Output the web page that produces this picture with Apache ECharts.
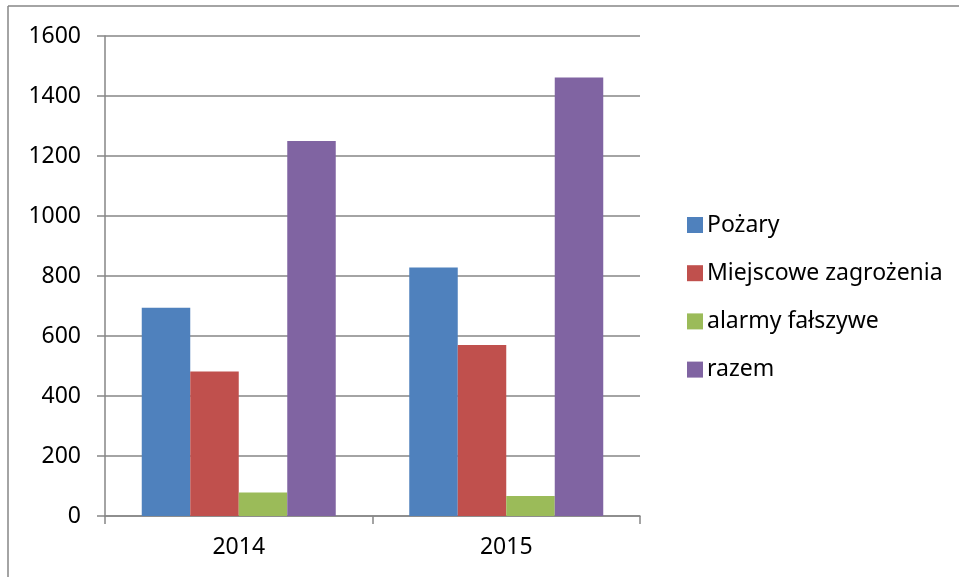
<!DOCTYPE html>
<html>
<head>
<meta charset="utf-8">
<script src="https://cdn.jsdelivr.net/npm/echarts@6/dist/echarts.min.js"></script>
<style>
  html, body { margin: 0; padding: 0; background: #fff; }
  #chart { width: 959px; height: 577px; }
</style>
</head>
<body>
<div id="chart"></div>
<script>
const years = ['2014', '2015']
const pozary = [694, 828]
const miejscowe = [482, 570]
const alarmy = [78, 67]
const razem = [1250, 1462]
const yTicks = [0, 200, 400, 600, 800, 1000, 1200, 1400, 1600]

const fontFamily = '"Noto Sans", sans-serif'
const axisGray = '#868686'

const makeSeries = (name, data, color) => ({
  name,
  type: 'bar',
  data,
  barWidth: 48.5,
  barGap: '0%',
  itemStyle: { color },
})

const chart = echarts.init(document.getElementById('chart'))
chart.setOption({
  animation: false,
  textStyle: { fontFamily },
  grid: { left: 105, right: 319, top: 36, bottom: 61 },
  legend: {
    orient: 'vertical',
    left: 682,
    top: 208,
    itemWidth: 16,
    itemHeight: 16,
    itemGap: 24.2,
    icon: 'rect',
    textStyle: { fontSize: 23, lineHeight: 24, color: '#000', fontFamily, padding: [0, 0, 0, -1] },
    data: ['Pożary', 'Miejscowe zagrożenia', 'alarmy fałszywe', 'razem'],
  },
  xAxis: {
    type: 'category',
    data: years,
    axisLine: { lineStyle: { color: axisGray, width: 1.5 } },
    axisTick: { show: true, length: 8, lineStyle: { color: axisGray, width: 1.5 } },
    axisLabel: { fontSize: 23, color: '#000', margin: 20, fontFamily },
  },
  yAxis: {
    type: 'value',
    min: yTicks[0],
    max: yTicks[yTicks.length - 1],
    interval: 200,
    axisLine: { show: true, lineStyle: { color: axisGray, width: 1.5 } },
    axisTick: { show: true, length: 8, lineStyle: { color: axisGray, width: 1.5 } },
    axisLabel: { fontSize: 23, color: '#000', margin: 24, fontFamily, formatter: (v) => String(v) },
    splitLine: { lineStyle: { color: axisGray, width: 1.5 } },
  },
  series: [
    makeSeries('Pożary', pozary, '#4F81BD'),
    makeSeries('Miejscowe zagrożenia', miejscowe, '#C0504D'),
    makeSeries('alarmy fałszywe', alarmy, '#9BBB59'),
    makeSeries('razem', razem, '#8064A2'),
  ],
  graphic: [
    // ramka wykresu (widoczne tylko lewa i górna krawędź)
    { type: 'line', shape: { x1: 8, y1: 6, x2: 959, y2: 6 }, style: { stroke: axisGray, lineWidth: 1.5 } },
    { type: 'line', shape: { x1: 8, y1: 6, x2: 8, y2: 577 }, style: { stroke: axisGray, lineWidth: 1.5 } },
  ],
})
</script>
</body>
</html>
